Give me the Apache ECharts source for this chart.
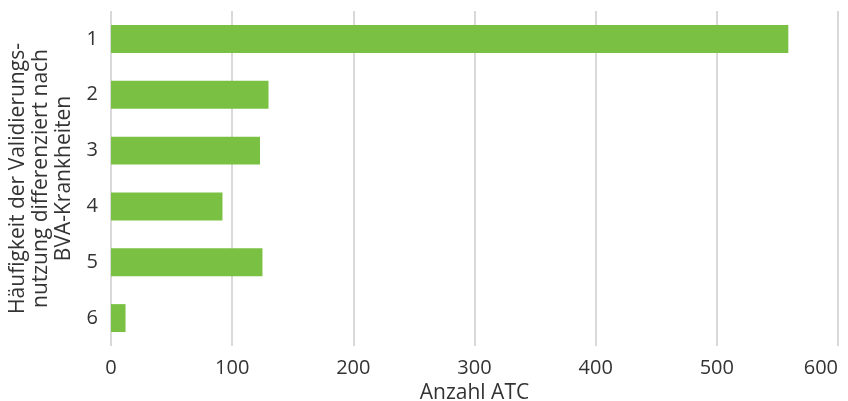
<!DOCTYPE html>
<html><head><meta charset="utf-8">
<script src="https://cdn.jsdelivr.net/npm/echarts@6/dist/echarts.min.js"></script>
<style>html,body{margin:0;padding:0;background:#fff}#c{width:848px;height:401px}</style>
</head><body><div id="c"></div>
<script>
const categories = ['1','2','3','4','5','6'];
const values = [559, 130, 123, 92, 125, 12];
const xTicks = [0, 100, 200, 300, 400, 500, 600];
const xTitle = 'Anzahl ATC';
const yTitle = 'Häufigkeit der Validierungs-\nnutzung differenziert nach\nBVA-Krankheiten';

const font = 'Open Sans';
const txt = '#333333';
const chart = echarts.init(document.getElementById('c'));
chart.setOption({
  animation: false,
  grid: {left: 111, right: 10, top: 11, bottom: 55, containLabel: false, outerBoundsMode: 'none'},
  xAxis: {
    type: 'value', min: xTicks[0], max: xTicks[xTicks.length-1], interval: 100,
    axisLine: {show: false}, axisTick: {show: false},
    splitLine: {show: true, lineStyle: {color: '#d9d9d9', width: 2}},
    axisLabel: {color: txt, fontFamily: font, fontSize: 20, margin: 12, alignMaxLabel: 'right'},
    name: xTitle, nameLocation: 'middle', nameGap: 36,
    nameTextStyle: {color: txt, fontFamily: font, fontSize: 21}
  },
  yAxis: {
    type: 'category', data: categories, inverse: true,
    axisLine: {show: false}, axisTick: {show: false},
    axisLabel: {color: txt, fontFamily: font, fontSize: 20, margin: 13},
    name: yTitle, nameLocation: 'middle', nameGap: 34, nameRotate: 90,
    nameTextStyle: {color: txt, fontFamily: font, fontSize: 21, lineHeight: 23, align: 'center'}
  },
  series: [{
    type: 'bar', data: values, barWidth: '50%',
    itemStyle: {color: '#7ac143'}
  }]
});
</script></body></html>
